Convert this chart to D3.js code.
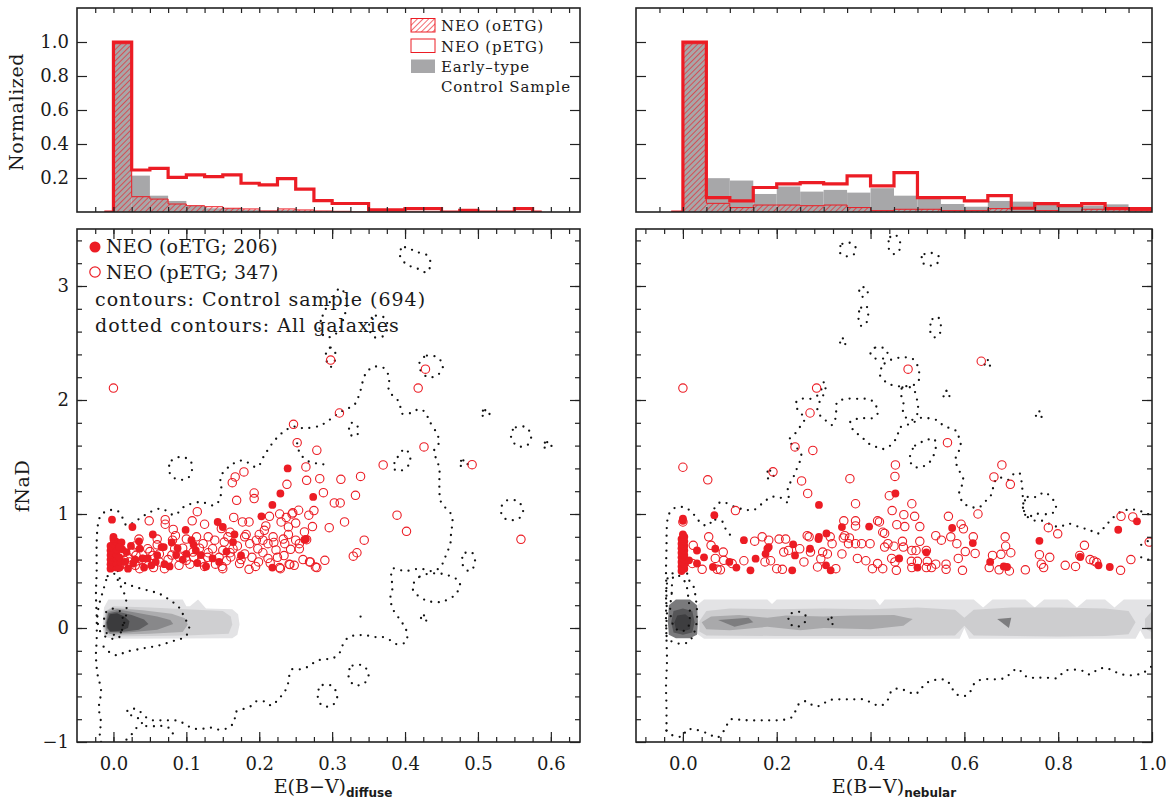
<!DOCTYPE html>
<html>
<head>
<meta charset="utf-8">
<script src="https://cdn.jsdelivr.net/npm/d3@7"></script>
<style>
  body { margin: 0; background: #fff; }
  svg { display: block; }
  text { font-family: "DejaVu Serif", serif; fill: #1a1a1a; }
</style>
</head>
<body>
<svg id="chart" width="1166" height="800"></svg>
<script>
// ---------- histogram data (normalized) ----------
const diffuseBins = [0, 0.025, 0.05, 0.075, 0.1, 0.125, 0.15, 0.175, 0.2, 0.225, 0.25, 0.275, 0.3, 0.325, 0.35, 0.375, 0.4, 0.425, 0.45, 0.475, 0.5, 0.525, 0.55];
const diffusePetg = [1.0, 0.247, 0.257, 0.204, 0.218, 0.208, 0.218, 0.169, 0.159, 0.196, 0.135, 0.067, 0.05, 0.05, 0.012, 0.012, 0.02, 0.02, 0.0, 0.01, 0.0, 0.0, 0.02];
const diffuseOetg = [0.99, 0.09, 0.076, 0.047, 0.037, 0.031, 0.022, 0.018, 0.006, 0.018, 0.012, 0.006, 0.004, 0, 0, 0, 0, 0, 0, 0, 0, 0, 0];
const diffuseCtrl = [1.0, 0.214, 0.096, 0.065, 0.037, 0.022, 0.02, 0.012, 0.008, 0.012, 0.008, 0.004, 0.003, 0, 0, 0, 0, 0, 0, 0, 0, 0, 0];

const nebularBins = [0, 0.05, 0.1, 0.15, 0.2, 0.25, 0.3, 0.35, 0.4, 0.45, 0.5, 0.55, 0.6, 0.65, 0.7, 0.75, 0.8, 0.85, 0.9, 0.95];
const nebularPetg = [1.0, 0.085, 0.065, 0.144, 0.165, 0.173, 0.165, 0.213, 0.154, 0.232, 0.085, 0.085, 0.065, 0.096, 0.022, 0.049, 0.037, 0.049, 0.02, 0.02];
const nebularOetg = [0.99, 0.051, 0.026, 0.041, 0.041, 0.037, 0.041, 0.026, 0.008, 0.016, 0.016, 0.008, 0.008, 0.02, 0, 0.008, 0, 0.016, 0.016, 0.008];
const nebularCtrl = [1.0, 0.199, 0.185, 0.106, 0.15, 0.12, 0.13, 0.114, 0.14, 0.096, 0.085, 0.047, 0.031, 0.065, 0.061, 0.047, 0.031, 0.037, 0.045, 0.02];

// ---------- scatter data: [E(B-V), fNaD] ----------
const leftFilled = [
  [-0.004,0.52],[0.0,0.54],[0.004,0.53],[-0.004,0.56],[0.0,0.58],[0.004,0.57],[-0.004,0.6],[0.0,0.62],[0.004,0.61],[-0.004,0.64],
  [0.0,0.66],[0.004,0.65],[-0.004,0.68],[0.0,0.7],[0.004,0.69],[-0.004,0.72],[0.0,0.74],[0.003,0.76],[0.0,0.78],[0.0,0.8],
  [-0.002,0.95],[0.008,0.53],[0.01,0.58],[0.008,0.62],[0.012,0.69],
  [0.026,0.886],[0.011,0.75],[0.054,0.82],[0.069,0.71],[0.035,0.76],[0.099,0.86],[0.143,0.93],[0.15,0.886],[0.166,0.82],
  [0.218,1.08],[0.203,0.98],[0.229,1.18],[0.218,0.53],[0.274,1.15],[0.262,0.775],[0.088,0.7],[0.107,0.77],[0.239,1.4],
  [0.018,0.666],[0.027,0.565],[0.04,0.61],[0.058,0.58],[0.066,0.71],[0.077,0.54],[0.086,0.64],[0.1,0.651],[0.113,0.68],
  [0.127,0.54],[0.136,0.61],[0.164,0.754],[0.175,0.637],[0.264,0.78],[0.052,0.55],[0.036,0.696],[0.008,0.71],[0.047,0.61],
  [0.02,0.52],[0.03,0.6],[0.06,0.64],[0.07,0.56],[0.095,0.6],[0.115,0.57],[0.12,0.64],[0.145,0.58],[0.016,0.58],[0.024,0.72],
  [0.042,0.53],[0.08,0.75],[0.11,0.73],[0.155,0.67]
];
const leftOpen = [
  [0.0,2.105],[0.298,2.35],[0.428,2.27],[0.418,2.105],[0.31,1.886],[0.247,1.787],[0.252,1.626],[0.279,1.559],[0.426,1.588],
  [0.492,1.433],[0.37,1.43],[0.264,1.413],[0.179,1.369],[0.167,1.325],[0.163,1.275],[0.238,1.26],[0.265,1.295],[0.283,1.31],
  [0.312,1.304],[0.339,1.33],[0.193,1.184],[0.193,1.135],[0.169,1.12],[0.288,1.187],[0.332,1.164],[0.303,1.097],[0.311,1.097],
  [0.254,1.033],[0.246,1.01],[0.275,1.03],[0.268,0.99],[0.389,0.99],[0.165,0.97],[0.115,1.02],
  [0.559,0.778],[0.402,0.848],[0.344,0.77],[0.334,0.66],[0.329,0.63],[0.317,0.93],[0.296,0.88],[0.29,0.594],[0.279,0.53],
  [0.27,0.58],[0.242,0.556],[0.229,0.52],
  [0.214,0.98],[0.228,1.0],[0.245,1.0],[0.237,0.97],[0.25,0.92],[0.049,0.94],[0.071,0.95],[0.108,0.94],[0.125,0.91],
  [0.071,0.91],[0.082,0.865],[0.085,0.81],[0.177,0.93],[0.186,0.93],[0.209,0.895],[0.207,0.857],[0.23,0.93],[0.24,0.886],
  [0.262,0.843],[0.265,0.775],[0.273,0.89],[0.269,0.58],[0.277,0.535],[0.255,0.695],[0.243,0.69],[0.223,0.685],[0.234,0.635],
  [0.241,0.56],[0.228,0.53],[0.199,0.58],[0.212,0.61],[0.186,0.515],[0.173,0.565],[0.161,0.623],[0.164,0.695],[0.18,0.65],
  [0.187,0.74],[0.196,0.77],[0.198,0.695],[0.18,0.8],[0.182,0.82],[0.157,0.8],[0.152,0.754],[0.148,0.872],[0.15,0.68],
  [0.136,0.695],[0.139,0.77],[0.145,0.62],[0.15,0.52],[0.149,0.54],[0.125,0.54],[0.129,0.62],[0.123,0.74],[0.109,0.666],
  [0.114,0.8],[0.1,0.594],[0.09,0.623],[0.081,0.77],[0.084,0.696],[0.07,0.52],[0.063,0.58],[0.063,0.65],[0.054,0.637],
  [0.047,0.695],[0.045,0.58],[0.036,0.52],[0.031,0.637],[0.022,0.58],[0.027,0.666],[0.015,0.594],[0.008,0.535],[0.233,0.78],
  [0.235,0.74],[0.25,0.77],[0.212,0.74],[0.219,0.8],[0.205,0.77],
  [0.02,0.62],[0.03,0.55],[0.04,0.6],[0.05,0.67],[0.055,0.53],[0.06,0.73],[0.075,0.6],[0.08,0.64],[0.09,0.55],[0.095,0.7],
  [0.105,0.56],[0.11,0.62],[0.118,0.7],[0.12,0.58],[0.13,0.66],[0.14,0.56],[0.155,0.59],[0.16,0.66],[0.17,0.72],[0.175,0.6],
  [0.19,0.62],[0.195,0.54],[0.205,0.66],[0.215,0.57],[0.22,0.75],[0.225,0.62],[0.03,0.72],[0.01,0.66],[0.012,0.56],[0.035,0.78],
  [0.06,0.78],[0.1,0.78],[0.13,0.8],[0.16,0.84],[0.2,0.82],[0.24,0.82],[0.255,0.74],[0.26,0.6],[0.248,0.55]
];
const rightFilled = [
  [-0.003,0.5],[0.003,0.52],[-0.003,0.54],[0.003,0.56],[-0.003,0.58],[0.003,0.6],[-0.003,0.62],[0.003,0.64],[-0.003,0.66],
  [0.003,0.68],[-0.003,0.7],[0.003,0.72],[-0.003,0.74],[0.003,0.76],[-0.003,0.78],[0.003,0.8],[0.0,0.82],[0.0,0.94],[0.0,0.96],
  [0.067,0.99],[0.29,1.08],[0.453,1.18],[0.03,0.68],[0.045,0.62],[0.03,0.566],[0.013,0.594],[0.069,0.695],[0.064,0.535],
  [0.114,0.53],[0.13,0.77],[0.155,0.608],[0.18,0.695],[0.176,0.65],[0.183,0.71],[0.235,0.734],[0.239,0.637],[0.233,0.506],
  [0.29,0.8],[0.289,0.78],[0.305,0.55],[0.315,0.506],[0.339,0.885],[0.397,0.89],[0.271,0.695],[0.099,0.58],[0.144,0.506],
  [0.306,0.83],[0.519,0.664],[0.461,0.61],[0.5,0.53],[0.618,0.745],[0.655,0.58],[0.684,0.54],[0.691,0.535],[0.76,0.765],
  [0.847,0.623],[0.886,0.55],[0.91,0.535],[0.928,0.862],[0.968,0.936],[0.574,0.877]
];
const rightOpen = [
  [0.0,2.105],[0.285,2.105],[0.48,2.27],[0.636,2.34],[0.271,1.886],[0.564,1.626],[0.239,1.588],[0.277,1.558],[0.0,1.41],
  [0.053,1.3],[0.192,1.37],[0.253,1.29],[0.266,1.18],[0.356,1.31],[0.453,1.43],[0.452,1.33],[0.68,1.43],[0.663,1.325],
  [0.698,1.26],[0.44,1.16],[0.488,1.09],[0.368,1.09],[0.446,1.03],[0.471,0.994],[0.494,0.98],[0.566,0.98],[0.629,1.0],
  [0.112,1.03],[0.934,0.98],[0.959,0.974],
  [0.0,0.93],[0.022,0.725],[0.055,0.8],[0.06,0.725],[0.086,0.666],[0.02,0.566],[0.041,0.515],[0.069,0.61],[0.073,0.515],
  [0.08,0.51],[0.087,0.594],[0.105,0.565],[0.13,0.59],[0.153,0.762],[0.169,0.8],[0.183,0.77],[0.175,0.58],[0.187,0.59],
  [0.2,0.52],[0.205,0.78],[0.219,0.78],[0.212,0.515],[0.215,0.666],[0.225,0.68],[0.249,0.695],[0.258,0.58],[0.269,0.8],
  [0.272,0.666],[0.287,0.535],[0.294,0.608],[0.298,0.666],[0.308,0.65],[0.314,0.8],[0.326,0.52],[0.339,0.65],[0.342,0.79],
  [0.353,0.74],[0.355,0.79],[0.368,0.74],[0.368,0.94],[0.368,0.895],[0.372,0.61],[0.381,0.74],[0.39,0.59],[0.404,0.52],
  [0.415,0.94],[0.415,0.565],[0.426,0.84],[0.426,0.52],[0.437,0.74],[0.43,0.71],[0.265,0.81],[0.318,0.74],[0.345,0.81],
  [0.399,0.74],[0.43,0.83],[0.343,0.94],[0.419,0.93],
  [0.456,0.906],[0.473,0.89],[0.505,0.89],[0.593,0.91],[0.598,0.87],[0.539,0.81],[0.551,0.77],[0.571,0.8],[0.619,0.8],
  [0.584,0.74],[0.602,0.67],[0.623,0.654],[0.587,0.61],[0.45,0.717],[0.47,0.71],[0.468,0.76],[0.505,0.76],[0.488,0.68],
  [0.497,0.68],[0.519,0.68],[0.445,0.61],[0.452,0.58],[0.487,0.585],[0.5,0.585],[0.521,0.585],[0.539,0.56],[0.561,0.56],
  [0.561,0.515],[0.53,0.53],[0.519,0.53],[0.488,0.53],[0.455,0.506],[0.596,0.506],[0.653,0.53],[0.66,0.637],[0.678,0.646],
  [0.687,0.8],[0.688,0.717],[0.699,0.66],[0.674,0.51],[0.696,0.5],[0.73,0.51],[0.76,0.643],[0.782,0.62],[0.779,0.88],
  [0.799,0.826],[0.764,0.56],[0.769,0.53],[0.815,0.55],[0.837,0.54],[0.846,0.637],[0.856,0.725],[0.868,0.6],[0.876,0.588],
  [0.882,0.575],[0.933,0.506],[0.955,0.6],[0.994,0.754]
];

// ---------- control-sample filled contours (outer to inner) ----------
const leftContours = [
  [[-0.015,0.0],[-0.013,0.18],[-0.007,0.25],[0.095,0.25],[0.1,0.19],[0.105,0.19],[0.116,0.25],[0.127,0.17],[0.163,0.165],[0.171,0.12],[0.173,0.03],[0.17,-0.06],[0.163,-0.09],[0.0,-0.095],[-0.012,-0.08]],
  [[-0.013,0.0],[-0.011,0.15],[0.0,0.19],[0.05,0.18],[0.1,0.165],[0.15,0.15],[0.161,0.1],[0.163,0.03],[0.158,-0.05],[0.1,-0.065],[0.0,-0.075],[-0.012,-0.06]],
  [[-0.012,0.02],[-0.01,0.15],[0.0,0.175],[0.04,0.155],[0.08,0.125],[0.098,0.085],[0.102,0.03],[0.095,-0.035],[0.05,-0.05],[0.0,-0.06],[-0.011,-0.04]],
  [[-0.011,0.03],[-0.008,0.14],[0.005,0.165],[0.03,0.135],[0.06,0.1],[0.078,0.07],[0.082,0.035],[0.06,-0.015],[0.02,-0.04],[-0.005,-0.05],[-0.01,-0.02]],
  [[-0.01,0.04],[-0.007,0.13],[0.005,0.145],[0.025,0.115],[0.042,0.075],[0.048,0.035],[0.035,-0.015],[0.01,-0.035],[-0.005,-0.035],[-0.009,0.0]],
  [[-0.009,0.05],[-0.005,0.12],[0.005,0.13],[0.015,0.1],[0.022,0.06],[0.02,0.0],[0.01,-0.025],[-0.004,-0.03],[-0.008,0.0]]
];
const rightContours = [
  [[0.03,0.2],[0.045,0.25],[0.18,0.25],[0.19,0.21],[0.2,0.25],[0.41,0.25],[0.42,0.2],[0.43,0.25],[0.62,0.25],[0.64,0.18],[0.66,0.25],[0.73,0.25],[0.75,0.18],[0.77,0.25],[0.82,0.25],[0.84,0.18],[0.86,0.25],[0.9,0.25],[0.92,0.18],[0.94,0.25],[1.0,0.25],[1.0,-0.095],[0.985,-0.095],[0.975,-0.02],[0.965,-0.095],[0.61,-0.095],[0.6,0.0],[0.59,-0.095],[0.045,-0.095],[0.03,-0.05],[0.025,0.08]],
  [[0.035,0.06],[0.05,0.15],[0.1,0.17],[0.2,0.165],[0.3,0.17],[0.4,0.165],[0.5,0.18],[0.58,0.16],[0.6,0.09],[0.62,0.16],[0.7,0.18],[0.8,0.18],[0.9,0.17],[0.95,0.15],[0.965,0.05],[0.95,-0.055],[0.9,-0.07],[0.8,-0.075],[0.62,-0.065],[0.6,0.02],[0.58,-0.065],[0.4,-0.07],[0.2,-0.07],[0.05,-0.065],[0.035,-0.03]],
  [[0.985,0.08],[1.0,0.15],[1.0,-0.04],[0.985,0.0]],
  [[0.04,0.05],[0.06,0.1],[0.12,0.115],[0.18,0.09],[0.22,0.11],[0.3,0.1],[0.36,0.11],[0.45,0.115],[0.49,0.08],[0.47,0.02],[0.4,-0.01],[0.3,0.0],[0.25,-0.02],[0.18,0.01],[0.1,-0.02],[0.05,-0.01]],
  [[0.075,0.07],[0.14,0.09],[0.15,0.05],[0.11,0.01]],
  [[0.67,0.08],[0.7,0.09],[0.695,0.0]],
  [[-0.032,0.05],[-0.03,0.2],[-0.015,0.25],[0.015,0.25],[0.03,0.2],[0.032,0.05],[0.03,-0.06],[0.015,-0.09],[-0.015,-0.09],[-0.03,-0.06]],
  [[-0.025,0.05],[-0.02,0.15],[0.0,0.17],[0.02,0.15],[0.025,0.05],[0.02,-0.04],[0.0,-0.06],[-0.02,-0.04]],
  [[-0.018,0.05],[-0.012,0.11],[0.005,0.12],[0.018,0.08],[0.015,-0.01],[0.0,-0.03],[-0.015,-0.01]]
];

// ---------- all-galaxy dotted contours ----------
const leftDotLines = [
  [[-0.017,-1.0],[-0.019,-0.91],[-0.017,-0.84],[-0.02,-0.7],[-0.017,-0.55],[-0.022,-0.4],[-0.024,-0.24],[-0.023,-0.1],[-0.023,0.1],[-0.024,0.3],[-0.023,0.5],[-0.023,0.75],[-0.021,0.915],[-0.017,0.99],[-0.007,1.03],[0.005,1.03],[0.013,0.96],[0.018,0.9],[0.031,0.94],[0.043,0.99],[0.065,1.047],[0.084,0.99],[0.096,1.06],[0.119,1.105],[0.139,1.076],[0.146,1.135],[0.148,1.24],[0.147,1.325],[0.159,1.417],[0.177,1.47],[0.197,1.41],[0.206,1.503],[0.218,1.62],[0.232,1.714],[0.247,1.766],[0.261,1.752],[0.282,1.772],[0.293,1.81],[0.305,1.867],[0.316,1.911],[0.33,1.955],[0.337,2.043],[0.346,2.23],[0.357,2.29],[0.371,2.28],[0.378,2.2],[0.378,2.08],[0.392,1.98],[0.396,1.88],[0.41,1.89],[0.419,1.92],[0.428,1.89],[0.433,1.82],[0.444,1.7],[0.447,1.63],[0.44,1.56],[0.447,1.4],[0.447,1.25],[0.449,1.11],[0.456,1.05],[0.464,0.99],[0.465,0.91],[0.463,0.84],[0.463,0.77],[0.46,0.7],[0.455,0.62],[0.45,0.55],[0.44,0.5],[0.42,0.52],[0.4,0.5],[0.383,0.52],[0.381,0.447],[0.383,0.36],[0.38,0.27],[0.383,0.17],[0.392,0.082],[0.399,0.015],[0.403,-0.05],[0.401,-0.123],[0.389,-0.143],[0.38,-0.108],[0.369,-0.079],[0.358,-0.079],[0.346,-0.064],[0.335,-0.064],[0.323,-0.079],[0.315,-0.143],[0.311,-0.21],[0.301,-0.266],[0.289,-0.274],[0.278,-0.29],[0.269,-0.333],[0.257,-0.362],[0.245,-0.362],[0.241,-0.424],[0.239,-0.5],[0.234,-0.567],[0.226,-0.625],[0.217,-0.681],[0.208,-0.646],[0.196,-0.643],[0.188,-0.687],[0.176,-0.716],[0.167,-0.742],[0.166,-0.818],[0.158,-0.874],[0.145,-0.892],[0.134,-0.874],[0.123,-0.883],[0.111,-0.883],[0.1,-0.853],[0.09,-0.816],[0.078,-0.81],[0.066,-0.81],[0.054,-0.81],[0.044,-0.78],[0.034,-0.722],[0.023,-0.707],[0.018,-0.745],[0.03,-0.78],[0.04,-0.82],[0.032,-0.874],[0.024,-0.94],[0.016,-0.99],[0.014,-1.0]],
  [[0.045,-0.86],[0.058,-0.862],[0.07,-0.862],[0.08,-0.897],[0.082,-0.97]],
  [[0.006,0.5],[0.01,0.42],[0.025,0.37],[0.047,0.33],[0.063,0.3],[0.076,0.25],[0.09,0.18],[0.097,0.097],[0.104,-0.005],[0.098,-0.079],[0.085,-0.108],[0.063,-0.152],[0.04,-0.18],[0.017,-0.21],[0.005,-0.24],[-0.006,-0.21],[-0.017,-0.138]],
  [[0.252,1.62],[0.256,1.53],[0.268,1.46],[0.283,1.44],[0.295,1.43]],
  [[0.339,0.1],[0.342,0.05]]
];
const leftDotLoops = [
  [[-0.006,0.47],[-0.01,0.42],[-0.014,0.33],[-0.019,0.22],[-0.022,0.1],[-0.019,-0.02],[-0.01,-0.08],[0.0,-0.095],[0.008,-0.08],[0.013,0.01],[0.017,0.1],[0.018,0.184],[0.017,0.257],[0.013,0.33],[0.007,0.4],[0.003,0.47]],
  [[-0.013,0.05],[-0.01,0.14],[0.0,0.17],[0.01,0.14],[0.013,0.05],[0.01,-0.04],[0.0,-0.06],[-0.01,-0.04]],
  [[0.076,1.4],[0.08,1.47],[0.092,1.5],[0.105,1.47],[0.108,1.4],[0.103,1.32],[0.092,1.3],[0.08,1.33]],
  [[0.392,3.3],[0.4,3.34],[0.415,3.3],[0.43,3.27],[0.435,3.2],[0.43,3.12],[0.418,3.15],[0.4,3.2]],
  [[0.352,2.7],[0.36,2.74],[0.372,2.72],[0.376,2.64],[0.37,2.56],[0.358,2.55],[0.352,2.6]],
  [[0.283,2.62],[0.287,2.74],[0.3,2.89],[0.311,2.98],[0.32,2.88],[0.316,2.72],[0.305,2.58],[0.292,2.55]],
  [[0.292,2.42],[0.298,2.46],[0.304,2.42],[0.303,2.33],[0.298,2.29],[0.293,2.33]],
  [[0.42,2.33],[0.43,2.39],[0.445,2.37],[0.452,2.3],[0.445,2.22],[0.432,2.2],[0.422,2.25]],
  [[0.545,1.7],[0.552,1.76],[0.566,1.76],[0.573,1.68],[0.567,1.6],[0.553,1.6]],
  [[0.532,1.06],[0.54,1.12],[0.555,1.11],[0.562,1.03],[0.556,0.96],[0.54,0.95],[0.533,0.99]],
  [[0.588,1.61],[0.595,1.63],[0.602,1.61],[0.597,1.58],[0.592,1.58]],
  [[0.503,1.89],[0.51,1.91],[0.517,1.89],[0.512,1.86],[0.507,1.86]],
  [[0.473,1.45],[0.48,1.47],[0.487,1.45],[0.482,1.42],[0.477,1.42]],
  [[0.322,-0.4],[0.328,-0.33],[0.342,-0.33],[0.35,-0.4],[0.345,-0.48],[0.33,-0.5]],
  [[0.28,-0.57],[0.287,-0.5],[0.3,-0.51],[0.307,-0.6],[0.3,-0.68],[0.286,-0.68]],
  [[0.41,0.36],[0.42,0.45],[0.44,0.48],[0.46,0.46],[0.475,0.4],[0.47,0.3],[0.45,0.23],[0.43,0.24],[0.415,0.3]],
  [[0.478,0.6],[0.483,0.66],[0.492,0.66],[0.496,0.58],[0.49,0.5],[0.482,0.52]],
  [[0.422,0.09],[0.426,0.11],[0.431,0.09],[0.428,0.06],[0.424,0.06]],
  [[0.384,1.4],[0.39,1.5],[0.4,1.57],[0.407,1.5],[0.405,1.43],[0.394,1.38]],
  [[0.323,1.72],[0.327,1.8],[0.334,1.78],[0.335,1.7],[0.329,1.68]]
];
const rightDotLines = [
  [[-0.035,-0.9],[-0.035,-0.7],[-0.036,-0.5],[-0.034,-0.3],[-0.035,-0.1],[-0.036,0.1],[-0.035,0.3],[-0.036,0.5],[-0.035,0.7],[-0.034,0.9],[-0.03,0.997],[-0.016,1.056],[0.005,1.056],[0.02,1.01],[0.03,0.96],[0.041,0.91],[0.055,0.9],[0.062,0.96],[0.066,1.04],[0.075,1.09],[0.084,1.106],[0.112,1.06],[0.134,1.037],[0.152,1.037],[0.173,1.106],[0.189,1.149],[0.208,1.143],[0.225,1.1],[0.224,1.24],[0.233,1.3],[0.24,1.37],[0.25,1.47],[0.252,1.53],[0.24,1.59],[0.225,1.64],[0.24,1.71],[0.252,1.78],[0.26,1.84],[0.247,1.9],[0.24,1.97],[0.253,2.01],[0.271,2.01],[0.287,2.04],[0.296,2.1],[0.301,2.16],[0.304,2.1],[0.299,2.04],[0.29,1.97],[0.287,1.895],[0.302,1.83],[0.318,1.78],[0.326,1.85],[0.329,1.98],[0.349,2.01],[0.372,2.01],[0.391,2.01],[0.407,1.98],[0.415,1.88],[0.403,1.84],[0.38,1.84],[0.357,1.81],[0.364,1.73],[0.38,1.68],[0.395,1.62],[0.411,1.59],[0.426,1.57],[0.442,1.6],[0.457,1.68],[0.461,1.75],[0.473,1.78],[0.488,1.79],[0.504,1.84],[0.523,1.84],[0.543,1.82],[0.554,1.78],[0.57,1.75],[0.585,1.72],[0.589,1.65],[0.593,1.59],[0.585,1.53],[0.581,1.47],[0.589,1.38],[0.597,1.32],[0.597,1.27],[0.589,1.2],[0.597,1.1],[0.616,1.06],[0.632,1.06],[0.647,1.12],[0.659,1.18],[0.663,1.27],[0.674,1.32],[0.694,1.3],[0.705,1.35],[0.717,1.36],[0.723,1.24],[0.725,1.13],[0.729,1.0],[0.736,0.97],[0.752,0.94],[0.767,0.94],[0.783,0.91],[0.802,0.886],[0.822,0.915],[0.845,0.886],[0.868,0.857],[0.884,0.827],[0.899,0.886],[0.915,0.96],[0.934,1.02],[0.953,1.04],[0.973,1.03],[0.988,1.0],[1.0,1.0]],
  [[-0.035,-0.9],[-0.023,-0.94],[0.0,-0.95],[0.008,-0.892],[0.027,-0.892],[0.054,-0.927],[0.073,-0.962],[0.089,-0.892],[0.101,-0.804],[0.12,-0.804],[0.14,-0.81],[0.163,-0.81],[0.182,-0.81],[0.2,-0.81],[0.217,-0.804],[0.233,-0.78],[0.248,-0.664],[0.264,-0.643],[0.279,-0.684],[0.295,-0.678],[0.31,-0.635],[0.329,-0.626],[0.349,-0.626],[0.364,-0.626],[0.384,-0.626],[0.402,-0.655],[0.419,-0.684],[0.434,-0.649],[0.446,-0.547],[0.461,-0.532],[0.481,-0.561],[0.496,-0.582],[0.504,-0.547],[0.523,-0.474],[0.543,-0.453],[0.562,-0.459],[0.574,-0.532],[0.585,-0.585],[0.601,-0.596],[0.612,-0.561],[0.624,-0.474],[0.643,-0.45],[0.667,-0.45],[0.686,-0.439],[0.698,-0.4],[0.713,-0.357],[0.725,-0.4],[0.736,-0.436],[0.752,-0.436],[0.775,-0.436],[0.798,-0.439],[0.814,-0.377],[0.833,-0.365],[0.853,-0.377],[0.868,-0.409],[0.884,-0.365],[0.899,-0.351],[0.915,-0.371],[0.93,-0.4],[0.95,-0.415],[0.969,-0.409],[0.984,-0.386],[1.0,-0.333]],
  [[0.069,0.95],[0.085,0.93],[0.091,0.87],[0.102,0.81]],
  [[0.977,0.73],[0.99,0.76],[1.0,0.77]],
  [[0.977,0.62],[0.99,0.6],[1.0,0.6]]
];
const rightDotLoops = [
  [[-0.03,0.46],[-0.034,0.39],[-0.036,0.27],[-0.034,0.155],[-0.035,0.04],[-0.034,-0.08],[-0.023,-0.12],[-0.005,-0.138],[0.013,-0.12],[0.023,-0.05],[0.029,0.04],[0.03,0.155],[0.027,0.27],[0.023,0.36],[0.013,0.42],[0.009,0.477],[-0.009,0.49]],
  [[-0.02,0.45],[-0.024,0.3],[-0.027,0.15],[-0.02,0.02],[-0.005,-0.03],[0.01,0.0],[0.015,0.1],[0.012,0.25],[0.005,0.4],[-0.01,0.46]],
  [[0.333,3.32],[0.34,3.37],[0.355,3.38],[0.368,3.34],[0.365,3.28],[0.35,3.26],[0.337,3.28]],
  [[0.438,3.36],[0.442,3.43],[0.452,3.45],[0.462,3.4],[0.462,3.32],[0.452,3.28],[0.442,3.3]],
  [[0.508,3.24],[0.515,3.28],[0.53,3.29],[0.547,3.25],[0.54,3.19],[0.525,3.18],[0.512,3.2]],
  [[0.376,2.96],[0.385,2.99],[0.394,2.96],[0.39,2.91],[0.38,2.91]],
  [[0.374,2.75],[0.38,2.81],[0.39,2.83],[0.395,2.75],[0.39,2.67],[0.38,2.65],[0.375,2.7]],
  [[0.527,2.64],[0.532,2.71],[0.543,2.73],[0.55,2.65],[0.546,2.57],[0.535,2.55],[0.528,2.59]],
  [[0.335,2.52],[0.341,2.54],[0.348,2.52],[0.344,2.48],[0.338,2.48]],
  [[0.4,2.42],[0.41,2.46],[0.425,2.46],[0.436,2.42],[0.43,2.37],[0.415,2.36],[0.403,2.38]],
  [[0.643,2.33],[0.65,2.35],[0.657,2.33],[0.652,2.29],[0.646,2.29]],
  [[0.554,2.06],[0.562,2.08],[0.57,2.06],[0.565,2.02],[0.558,2.02]],
  [[0.752,1.88],[0.76,1.9],[0.767,1.88],[0.762,1.84],[0.756,1.84]],
  [[0.484,1.5],[0.495,1.6],[0.515,1.64],[0.535,1.66],[0.539,1.58],[0.525,1.45],[0.505,1.41],[0.49,1.42]],
  [[0.178,1.36],[0.186,1.38],[0.194,1.36],[0.19,1.31],[0.182,1.31]],
  [[0.725,1.05],[0.735,1.15],[0.755,1.15],[0.77,1.19],[0.79,1.12],[0.795,1.03],[0.78,1.0],[0.75,1.0],[0.735,0.97]],
  [[0.225,0.08],[0.232,0.13],[0.25,0.14],[0.264,0.09],[0.255,0.03],[0.24,0.01],[0.228,0.04]],
  [[0.31,0.08],[0.317,0.09],[0.322,0.05],[0.316,0.03]],
  [[0.42,2.22],[0.43,2.32],[0.46,2.37],[0.49,2.36],[0.503,2.26],[0.5,2.15],[0.47,2.12],[0.44,2.14]],
  [[0.465,2.05],[0.468,2.11],[0.49,2.1],[0.5,1.98],[0.5,1.88],[0.485,1.82],[0.47,1.88],[0.47,1.98]]
];

// ---------- styles ----------
const RED = "#ec1c24";
const CTRL_GRAY = "#a7a7a9";
const leftContourColors = ["#e3e3e5", "#cfcfd1", "#acacae", "#88888a", "#5f5f61", "#3b3b3d"];
const rightContourColors = ["#e3e3e5", "#cdcdcf", "#cdcdcf", "#a9a9ab", "#7d7d7f", "#7d7d7f", "#7a7a7c", "#555557", "#3e3e40"];

const svg = d3.select("#chart");

// hatch pattern for oETG
const defs = svg.append("defs");
defs.append("pattern")
    .attr("id", "hatch")
    .attr("patternUnits", "userSpaceOnUse")
    .attr("width", 4).attr("height", 4)
    .attr("patternTransform", "rotate(45)")
    .append("line")
    .attr("x1", 0).attr("y1", 0).attr("x2", 0).attr("y2", 4)
    .attr("stroke", RED).attr("stroke-width", 1.3);

// panel geometry
const panels = {
    tl: { x: [-0.05, 0.64], y: [0, 1.2], px: [77, 580], py: [212, 8] },
    tr: { x: [-0.1, 1.0], y: [0, 1.2], px: [636, 1152], py: [212, 8] },
    bl: { x: [-0.05, 0.64], y: [-1, 3.5], px: [77, 580], py: [742, 229] },
    br: { x: [-0.1, 1.0], y: [-1, 3.5], px: [636, 1152], py: [742, 229] }
};
Object.entries(panels).forEach(([k, p]) => {
    p.xs = d3.scaleLinear().domain(p.x).range(p.px);
    p.ys = d3.scaleLinear().domain(p.y).range(p.py);
    defs.append("clipPath").attr("id", "clip-" + k)
        .append("rect")
        .attr("x", p.px[0]).attr("y", p.py[1])
        .attr("width", p.px[1] - p.px[0]).attr("height", p.py[0] - p.py[1]);
    p.g = svg.append("g").attr("clip-path", `url(#clip-${k})`);
});

// ---------- histograms ----------
function drawHist(p, bins, ctrl, oetg, petg) {
    const w = bins[1] - bins[0];
    const x = p.xs, y = p.ys;
    const barX = i => x(bins[i]);
    const barW = i => x(bins[i] + w) - x(bins[i]);

    p.g.selectAll(null).data(ctrl).join("rect")
        .attr("x", (d, i) => barX(i)).attr("width", (d, i) => barW(i))
        .attr("y", d => y(d)).attr("height", d => y(0) - y(d))
        .attr("fill", CTRL_GRAY);

    p.g.selectAll(null).data(oetg).join("rect")
        .attr("x", (d, i) => barX(i)).attr("width", (d, i) => barW(i))
        .attr("y", d => y(d)).attr("height", d => y(0) - y(d))
        .attr("fill", "url(#hatch)");

    const step = vals => {
        const pts = [[bins[0] - w / 2, 0]];
        vals.forEach((v, i) => pts.push([bins[i], v]));
        pts.push([bins[bins.length - 1] + w, 0]);
        pts.push([bins[bins.length - 1] + 1.5 * w, 0]);
        return d3.line().x(d => x(d[0])).y(d => y(d[1])).curve(d3.curveStepAfter)(pts);
    };
    p.g.append("path").attr("d", step(oetg))
        .attr("fill", "none").attr("stroke", RED).attr("stroke-width", 1);
    p.g.append("path").attr("d", step(petg))
        .attr("fill", "none").attr("stroke", RED).attr("stroke-width", 3.2)
        .attr("stroke-linejoin", "miter");
}
drawHist(panels.tl, diffuseBins, diffuseCtrl, diffuseOetg, diffusePetg);
drawHist(panels.tr, nebularBins, nebularCtrl, nebularOetg, nebularPetg);

// ---------- scatter panels ----------
function drawScatter(p, contours, colors, dotLines, dotLoops, open, filled) {
    const x = p.xs, y = p.ys;
    const line = d3.line().x(d => x(d[0])).y(d => y(d[1]));

    // filled contours are polygonal, like the original
    contours.forEach((c, i) => {
        p.g.append("path")
            .attr("d", line.curve(d3.curveLinearClosed)(c))
            .attr("fill", colors[i]);
    });

    const dotted = sel => sel.attr("fill", "none").attr("stroke", "#111")
        .attr("stroke-width", 2.3).attr("stroke-linecap", "round")
        .attr("stroke-dasharray", "0 7.5");
    dotLines.forEach(l => {
        p.g.append("path").attr("d", line.curve(d3.curveCatmullRom.alpha(0.5))(l)).call(dotted);
    });
    dotLoops.forEach(l => {
        p.g.append("path").attr("d", line.curve(d3.curveCatmullRomClosed.alpha(0.5))(l)).call(dotted);
    });

    p.g.selectAll(null).data(open).join("circle")
        .attr("cx", d => x(d[0])).attr("cy", d => y(d[1])).attr("r", 4.2)
        .attr("fill", "none").attr("stroke", RED).attr("stroke-width", 1.1);
    p.g.selectAll(null).data(filled).join("circle")
        .attr("cx", d => x(d[0])).attr("cy", d => y(d[1])).attr("r", 3.9)
        .attr("fill", RED);
}
drawScatter(panels.bl, leftContours, leftContourColors, leftDotLines, leftDotLoops, leftOpen, leftFilled);
drawScatter(panels.br, rightContours, rightContourColors, rightDotLines, rightDotLoops, rightOpen, rightFilled);

// ---------- axes ----------
function axes(p, o) {
    const [x0, x1] = p.px, [y1, y0] = p.py;
    const mk = (axis, scale, vals, len, fmt, pad, tr) => {
        const g = svg.append("g").attr("transform", tr)
            .call(axis(scale).tickValues(vals).tickSize(-len).tickSizeOuter(0)
                .tickPadding(pad).tickFormat(fmt || ""));
        g.select(".domain").remove();
        g.attr("font-family", "DejaVu Serif").attr("font-size", 18).attr("color", "#222");
        g.selectAll("line").attr("stroke-width", 1.2);
        return g;
    };
    // x ticks bottom + top
    mk(d3.axisBottom, p.xs, o.xMajor, o.xMajorLen, o.xFmt, 15, `translate(0,${y1})`);
    mk(d3.axisTop, p.xs, o.xMajor, o.xMajorLen, null, 0, `translate(0,${y0})`);
    if (o.xMinor) {
        mk(d3.axisBottom, p.xs, o.xMinor, 5, null, 0, `translate(0,${y1})`);
        mk(d3.axisTop, p.xs, o.xMinor, 5, null, 0, `translate(0,${y0})`);
    }
    // y ticks left + right
    mk(d3.axisLeft, p.ys, o.yMajor, 10, o.yFmt, 8, `translate(${x0},0)`);
    mk(d3.axisRight, p.ys, o.yMajor, 10, null, 0, `translate(${x1},0)`);
    if (o.yMinor) {
        mk(d3.axisLeft, p.ys, o.yMinor, 5, null, 0, `translate(${x0},0)`);
        mk(d3.axisRight, p.ys, o.yMinor, 5, null, 0, `translate(${x1},0)`);
    }
    svg.append("rect").attr("x", x0).attr("y", y0).attr("width", x1 - x0).attr("height", y1 - y0)
        .attr("fill", "none").attr("stroke", "#222").attr("stroke-width", 1.6);
}
const f1 = d3.format(".1f");
axes(panels.tl, { xMajor: d3.range(-0.025, 0.64, 0.025), xMajorLen: 5, yMajor: [0.2, 0.4, 0.6, 0.8, 1.0], yFmt: f1 });
axes(panels.tr, { xMajor: d3.range(-0.05, 1.0, 0.05), xMajorLen: 5, yMajor: [0.2, 0.4, 0.6, 0.8, 1.0] });
axes(panels.bl, {
    xMajor: [0, 0.1, 0.2, 0.3, 0.4, 0.5, 0.6], xMajorLen: 10, xFmt: f1,
    xMinor: d3.range(-0.025, 0.64, 0.025),
    yMajor: [-1, 0, 1, 2, 3], yFmt: d3.format("d"), yMinor: d3.range(-0.8, 3.5, 0.2)
});
axes(panels.br, {
    xMajor: [0, 0.2, 0.4, 0.6, 0.8, 1.0], xMajorLen: 10, xFmt: f1,
    xMinor: d3.range(-0.08, 1.0, 0.04),
    yMajor: [-1, 0, 1, 2, 3], yMinor: d3.range(-0.8, 3.5, 0.2)
});

// ---------- axis titles ----------
svg.append("text").attr("transform", "translate(23,112) rotate(-90)")
    .attr("text-anchor", "middle").attr("font-size", 19).attr("letter-spacing", 0.6).text("Normalized");
svg.append("text").attr("transform", "translate(29,486) rotate(-90)")
    .attr("text-anchor", "middle").attr("font-size", 19).attr("letter-spacing", 0.6).text("fNaD");

function xTitle(cx, sub) {
    const t = svg.append("text").attr("x", cx).attr("y", 793)
        .attr("text-anchor", "middle").attr("font-size", 19);
    t.append("tspan").text("E(B−V)");
    t.append("tspan").attr("dy", 4).attr("font-family", "DejaVu Sans").attr("font-weight", "bold")
        .attr("font-size", 12).text(sub);
}
xTitle(333, "diffuse");
xTitle(894, "nebular");

// ---------- legends ----------
const histLegend = [
    { label: "NEO (oETG)", fill: "url(#hatch)", stroke: RED },
    { label: "NEO (pETG)", fill: "#fff", stroke: RED },
    { label: "Early–type", fill: CTRL_GRAY, stroke: "none" }
];
histLegend.forEach((d, i) => {
    svg.append("rect").attr("x", 411).attr("y", 18.5 + i * 20.5).attr("width", 24).attr("height", 13.5)
        .attr("fill", d.fill).attr("stroke", d.stroke).attr("stroke-width", 1);
    svg.append("text").attr("x", 441).attr("y", 31 + i * 20.5).attr("font-size", 15)
        .attr("letter-spacing", 0.8).text(d.label);
});
svg.append("text").attr("x", 441).attr("y", 92).attr("font-size", 15)
    .attr("letter-spacing", 0.8).text("Control Sample");

svg.append("circle").attr("cx", 95).attr("cy", 247).attr("r", 5.5).attr("fill", RED);
svg.append("circle").attr("cx", 95).attr("cy", 272).attr("r", 5.2)
    .attr("fill", "none").attr("stroke", RED).attr("stroke-width", 1.2);
const scatLegend = [
    { x: 106, y: 253, t: "NEO (oETG; 206)", ls: 0.2 },
    { x: 106, y: 279, t: "NEO (pETG; 347)", ls: 0.2 },
    { x: 95, y: 306, t: "contours: Control sample (694)", ls: 1.0 },
    { x: 95, y: 332, t: "dotted contours: All galaxies", ls: 1.0 }
];
scatLegend.forEach(d => {
    svg.append("text").attr("x", d.x).attr("y", d.y).attr("font-size", 19)
        .attr("letter-spacing", d.ls).text(d.t);
});
</script>
</body>
</html>
